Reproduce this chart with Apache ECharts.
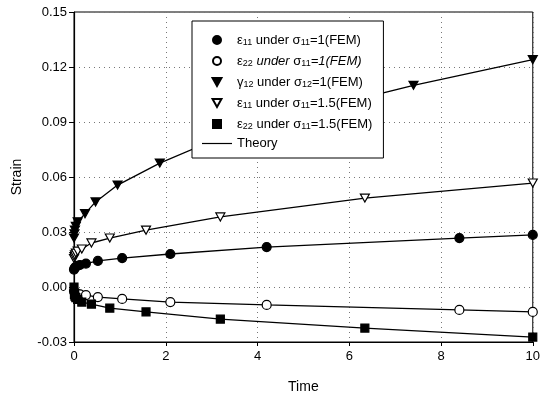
<!DOCTYPE html>
<html>
<head>
<meta charset="utf-8">
<script src="https://cdn.jsdelivr.net/npm/echarts@6/dist/echarts.min.js"></script>
<style>
  html, body { margin: 0; padding: 0; background: #fff; }
  #chart { width: 543px; height: 399px; }
</style>
</head>
<body>
<div id="chart"></div>
<script>
// times and strains
const timeA = [0, 0.01, 0.03, 0.07, 0.13, 0.26, 0.52, 1.05, 2.1, 4.2, 8.4, 10];
const timeG = [0, 0.01, 0.02, 0.04, 0.08, 0.24, 0.47, 0.95, 1.87, 3.7, 7.4, 10];
const timeB = [0, 0.01, 0.02, 0.04, 0.08, 0.17, 0.38, 0.78, 1.57, 3.19, 6.34, 10];

const eps11s1 = [0.0095, 0.0102, 0.0108, 0.0115, 0.012, 0.0128, 0.0142, 0.0158, 0.018, 0.0218, 0.0267, 0.0284];
const eps22s1 = [-0.0022, -0.0028, -0.0032, -0.0036, -0.004, -0.0044, -0.0055, -0.0065, -0.0082, -0.0098, -0.0125, -0.0136];
const gam12s1 = [0.0267, 0.029, 0.031, 0.033, 0.0355, 0.040, 0.0464, 0.0556, 0.0676, 0.087, 0.110, 0.124];
const eps11s15 = [0.0155, 0.0165, 0.0175, 0.0185, 0.0195, 0.0207, 0.024, 0.0267, 0.031, 0.0382, 0.0485, 0.0567];
const eps22s15 = [0, -0.004, -0.005, -0.0058, -0.0068, -0.0082, -0.0093, -0.0115, -0.0136, -0.0175, -0.0224, -0.0273];

const xTicks = [0, 2, 4, 6, 8, 10];
const yTicks = ['-0.03', '0.00', '0.03', '0.06', '0.09', '0.12', '0.15'];

const zip = (t, v) => t.map((x, i) => [x, v[i]]);

const legendText = {
  e11s1: '{g|ε}{s|11}{t| under }{g|σ}{s|11}{t|=1(FEM)}',
  e22s1: '{g|ε}{s|22}{i| under }{g|σ}{s|11}{i|=1(FEM)}',
  g12s1: '{g|γ}{s|12}{t| under }{g|σ}{s|12}{t|=1(FEM)}',
  e11s15: '{g|ε}{s|11}{t| under }{g|σ}{s|11}{t|=1.5(FEM)}',
  e22s15: '{g|ε}{s|22}{t| under }{g|σ}{s|11}{t|=1.5(FEM)}',
  Theory: '{t|Theory}'
};

const triDown = 'path://M0,0 L10,0 L5,9 Z';
const square = 'path://M0,0 L10,0 L10,10 L0,10 Z';
const hLine = 'path://M0,0 L30,0 L30,1.2 L0,1.2 Z';

function theory(t, v) {
  return {
    name: 'Theory', type: 'line', data: zip(t, v), symbol: 'none',
    lineStyle: { color: '#000', width: 1.3 }, itemStyle: { color: '#000' },
    z: 2, silent: true
  };
}

function fem(name, t, v, symbol, fill, size) {
  return {
    name, type: 'scatter', data: zip(t, v), symbol, symbolSize: size,
    symbolKeepAspect: true,
    itemStyle: { color: fill, borderColor: '#000', borderWidth: 1.2, opacity: 1 },
    z: 3
  };
}

const chart = echarts.init(document.getElementById('chart'));
const font = 'Liberation Sans, Arial, sans-serif';

chart.setOption({
  animation: false,
  textStyle: { fontFamily: font },
  grid: { left: 74, right: 7, top: 12, bottom: 57, show: true, borderColor: '#000', borderWidth: 1 },
  xAxis: {
    type: 'value', min: 0, max: 10, interval: 2,
    name: 'Time', nameLocation: 'middle', nameGap: 38,
    nameTextStyle: { color: '#000', fontSize: 14, fontFamily: font },
    axisLine: { show: true, onZero: false, lineStyle: { color: '#000', width: 1.2 } },
    axisTick: { show: true, length: 4, lineStyle: { color: '#000' } },
    axisLabel: { color: '#000', fontSize: 13, margin: 8, formatter: v => xTicks.includes(v) ? String(v) : '' },
    splitLine: { show: true, lineStyle: { color: '#777', type: [1, 4], width: 1 } }
  },
  yAxis: {
    type: 'value', min: -0.03, max: 0.15, interval: 0.03,
    name: 'Strain', nameLocation: 'middle', nameGap: 50,
    nameTextStyle: { color: '#000', fontSize: 14, fontFamily: font },
    axisLine: { show: true, onZero: false, lineStyle: { color: '#000', width: 1.2 } },
    axisTick: { show: true, length: 5, lineStyle: { color: '#000' } },
    axisLabel: {
      color: '#000', fontSize: 13, margin: 7,
      formatter: v => {
        const s = (Math.round(v * 100) / 100).toFixed(2);
        return yTicks.includes(s) ? s : '';
      }
    },
    splitLine: { show: true, lineStyle: { color: '#777', type: [1, 4], width: 1 } }
  },
  legend: {
    orient: 'vertical', left: 192, top: 21,
    padding: [11, 11, 8, 10], itemGap: 6,
    itemWidth: 30, itemHeight: 8,
    backgroundColor: '#fff', borderColor: '#000', borderWidth: 1,
    data: ['e11s1', 'e22s1', 'g12s1', 'e11s15', 'e22s15', { name: 'Theory', icon: hLine }],
    formatter: name => legendText[name],
    textStyle: {
      color: '#000', fontSize: 13, fontFamily: font,
      rich: {
        t: { fontSize: 13, color: '#000', lineHeight: 14 },
        i: { fontSize: 13, color: '#000', fontStyle: 'italic', lineHeight: 14 },
        g: { fontSize: 13, color: '#000', lineHeight: 14 },
        s: { fontSize: 9, color: '#000', verticalAlign: 'bottom', padding: [6, 0, 0, 0], lineHeight: 14 }
      }
    }
  },
  series: [
    theory(timeA, eps11s1),
    theory(timeA, eps22s1),
    theory(timeG, gam12s1),
    theory(timeB, eps11s15),
    theory(timeB, eps22s15),
    fem('e11s1', timeA, eps11s1, 'circle', '#000', 9),
    fem('e22s1', timeA, eps22s1, 'circle', '#fff', 9),
    fem('g12s1', timeG, gam12s1, triDown, '#000', 9),
    fem('e11s15', timeB, eps11s15, triDown, '#fff', 9),
    fem('e22s15', timeB, eps22s15, square, '#000', 8)
  ]
});
</script>
</body>
</html>
